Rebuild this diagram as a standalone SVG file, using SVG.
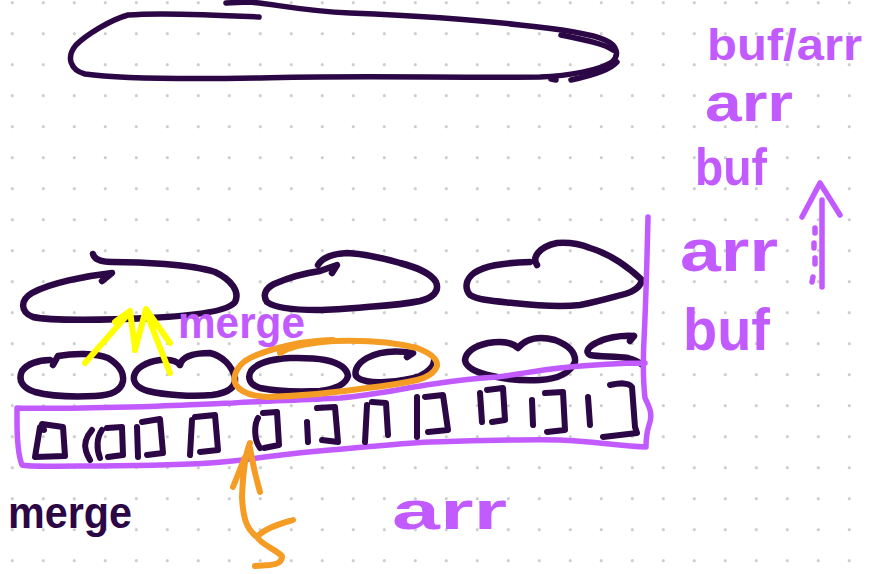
<svg xmlns="http://www.w3.org/2000/svg" width="869" height="574" viewBox="0 0 869 574">
  <defs>
    <pattern id="dotgrid" x="0" y="0" width="31" height="31" patternUnits="userSpaceOnUse">
      <circle cx="12.3" cy="2.7" r="1.6" fill="#cfcfcf"/>
    </pattern>
    <style>
      .ink { fill: none; stroke: #2c0746; stroke-width: 6.5; stroke-linecap: round; stroke-linejoin: round; }
      .thin { stroke-width: 5.5; }
      .cell { fill: none; stroke: #2c0746; stroke-width: 6; stroke-linecap: round; stroke-linejoin: round; }
      .violet { fill: none; stroke: #c25bff; stroke-width: 5.5; stroke-linecap: round; stroke-linejoin: round; }
      .amber { fill: none; stroke: #f59c25; stroke-width: 6; stroke-linecap: round; stroke-linejoin: round; }
      .lemon { fill: none; stroke: #ffff00; stroke-width: 6; stroke-linecap: round; stroke-linejoin: round; }
      .label { font-family: "Liberation Sans", "DejaVu Sans", sans-serif; font-weight: bold; }
      .lv { fill: #c25bff; }
      .ld { fill: #2c0746; }
    </style>
  </defs>

  <rect width="869" height="574" fill="#ffffff"/>
  <rect width="869" height="574" fill="url(#dotgrid)"/>

  <!-- fully merged run -->
  <g id="merged-run">
    <path class="ink thin" d="M259,17 C200,14 150,13 128,15 C110,20 86,35 76,45 C66,57 70,70 85,74 C120,79 200,79 260,78 C350,75 450,78 540,77 C570,76 600,70 612,62 C620,55 617,45 605,40 C590,33 560,29 520,25 C470,19 420,16 350,13 C300,11 270,3 248,2 L226,3"/>
    <path class="ink thin" d="M561,35 C585,40 605,44 613,50 M571,80 C595,75 612,68 617,62 M551,79 L556,80"/>
  </g>

  <!-- second-level runs -->
  <g id="run-left">
    <path class="ink" d="M93,254 Q95,262 112,262 C140,262 190,264 215,272 C232,280 240,292 235,302 C228,312 190,316 150,318 C110,320 50,321 33,317 C20,312 20,300 32,293 C50,283 85,276 112,273 L102,281"/>
  </g>
  <g id="run-middle">
    <path class="ink" d="M318,265 C322,258 330,254 347,253 C365,254 383,258 400,263 C415,267 430,272 436,282 C440,292 432,298 420,301 C400,305 380,306 367,307 C345,309 330,310 317,310 C295,310 275,308 267,302 C262,295 266,288 274,284 C288,278 305,273 320,271 L337,265 L332,273"/>
  </g>
  <g id="run-right">
    <path class="ink" d="M537,265 C532,258 538,247 557,243 C570,242 580,244 590,248 C607,253 625,264 642,280 C640,288 632,292 625,294 C610,298 597,302 580,305 C563,307 540,306 513,303 C493,301 478,300 470,295 C464,288 466,279 474,273 C485,266 500,263 530,262"/>
  </g>

  <!-- first-level runs -->
  <g id="pair-1">
    <path class="ink" d="M53,365 L58,356 C75,353 95,353 108,358 C118,364 124,372 123,381 C121,391 112,395 95,396 C75,397 50,396 35,392 C22,388 18,380 22,371 C27,364 38,360 50,360"/>
  </g>
  <g id="pair-2">
    <path class="ink" d="M180,365 C182,357 192,353 210,353 C222,356 232,365 235,378 C236,388 228,393 212,395 C192,397 165,395 148,391 C137,388 133,382 134,376 C136,368 146,362 160,360 C170,359 177,361 180,365"/>
  </g>
  <g id="pair-3">
    <path class="ink" d="M297,358 L290,358 C270,359 256,364 251,371 C247,378 250,385 260,388 C275,391 300,392 320,391 C335,389 346,384 348,376 C347,368 340,363 325,360 C315,358 305,358 297,358"/>
  </g>
  <g id="pair-4">
    <path class="ink" d="M407,357 L413,353 C395,350 378,352 367,358 C358,363 354,370 356,376 C360,381 372,383 385,382 C400,381 412,379 420,376 C428,372 434,366 434,361"/>
  </g>
  <g id="pair-5">
    <path class="ink" d="M518,348 C512,342 500,341 488,343 C475,346 466,352 465,360 C466,368 478,373 492,376 C505,379 522,381 540,380 C558,379 570,373 575,362 C576,352 568,345 555,340 C540,336 526,338 518,348"/>
  </g>
  <g id="pair-6">
    <path class="ink" d="M634,336 C620,335 605,338 596,343 C588,347 585,352 590,355 C600,357 615,356 628,358 C635,360 639,362 641,364 M630,341 L634,336"/>
  </g>

  <!-- input array -->
  <g id="array">
    <path class="violet" d="M648,217 C647,260 646,300 644,340 C643,360 643,380 645,398 C650,408 653,415 649,425 C646,435 646,442 646,447 C620,446 590,441 560,440 C520,439 470,441 430,442 C390,444 360,448 330,450 C280,454 250,460 210,463 C160,466 120,466 80,466 C50,466 30,467 22,465 C18,455 17,435 17,420 L17,408 C50,409 90,408 130,407 C170,406 200,404 233,403 C270,401 305,400 340,398 C375,395 405,388 433,384 C460,380 480,378 497,377 C520,374 540,370 560,368 C590,365 615,363 645,363"/>
    <!-- cells -->
    <path class="cell" d="M40,427 L35,457 L65,456 L63,427 L42,424 L44,430"/>
    <path class="cell" d="M92,430 C86,437 84,445 86,451 C87,455 89,458 90,460"/>
    <path class="cell" d="M102,430 C97,437 96,448 100,458 M107,428 L122,427 L123,455 L108,457"/>
    <path class="cell" d="M137,427 L138,457 M142,422 L160,419 L163,453 L147,455"/>
    <path class="cell" d="M192,420 L190,455 M195,417 L215,415 L218,450 L200,452"/>
    <path class="cell" d="M258,418 C254,425 254,440 260,448 M263,413 L277,412 L279,445 L264,448"/>
    <path class="cell" d="M307,422 L308,442 M317,408 L335,407 L338,442 L322,440"/>
    <path class="cell" d="M367,405 L365,442 M372,402 L386,403 L388,435"/>
    <path class="cell" d="M417,397 L417,437 M425,397 L443,395 L448,430 L428,432"/>
    <path class="cell" d="M480,393 L482,422 M487,390 L503,388 L505,420 L492,422"/>
    <path class="cell" d="M532,400 L533,425 M545,393 L563,392 L565,430 L547,432"/>
    <path class="cell" d="M588,397 L590,425 M610,385 C620,383 628,382 632,387 L635,427 L637,433 L603,437"/>
  </g>

  <!-- connectors -->
  <g id="connectors">
    <path class="lemon" d="M85,363 L130,312 M115,322 L130,311 L135,348"/>
    <path class="lemon" d="M135,350 L146,309 L170,343 M146,312 L170,373"/>
    <path class="amber" d="M280,353 C290,347 300,344 333,341 C360,340 390,341 417,348 C430,353 438,359 437,366 C434,374 425,378 417,380 C400,384 385,386 367,388 C340,392 300,396 267,397 C250,396 240,391 236,385 C232,378 236,368 245,361 C255,354 270,349 300,343 C315,341 325,340 333,340"/>
    <path class="amber" d="M250,443 C245,455 243,470 242,497 C243,515 245,528 257,537 M233,487 L245,457 M250,448 C252,460 255,475 260,492 M293,520 C280,524 265,528 257,537 C262,545 275,549 282,556 C282,562 278,564 270,565 L255,566"/>
    <path class="violet" d="M802,217 L820,183 L840,215 M822,200 L822,287 M815,228 L815,233 M814,243 L814,248 M815,258 L815,264 M813,277 L812,282"/>
  </g>

  <!-- labels -->
  <g id="labels">
    <text class="label lv" x="707" y="60" font-size="44" textLength="155" lengthAdjust="spacingAndGlyphs">buf/arr</text>
    <text class="label lv" x="705" y="121" font-size="54" textLength="88" lengthAdjust="spacingAndGlyphs">arr</text>
    <text class="label lv" x="695" y="185" font-size="52" textLength="72" lengthAdjust="spacingAndGlyphs">buf</text>
    <text class="label lv" x="680" y="271" font-size="60" textLength="98" lengthAdjust="spacingAndGlyphs">arr</text>
    <text class="label lv" x="683" y="350" font-size="60" textLength="87" lengthAdjust="spacingAndGlyphs">buf</text>
    <text class="label lv" x="178" y="338" font-size="44" textLength="127" lengthAdjust="spacingAndGlyphs">merge</text>
    <text class="label ld" x="8" y="528" font-size="44" textLength="124" lengthAdjust="spacingAndGlyphs">merge</text>
    <text class="label lv" x="392" y="529" font-size="54" textLength="115" lengthAdjust="spacingAndGlyphs">arr</text>
  </g>
</svg>
